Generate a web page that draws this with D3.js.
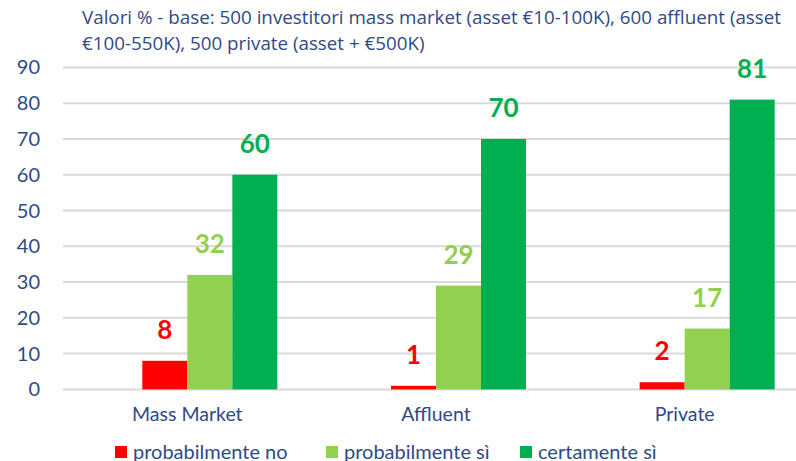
<!DOCTYPE html>
<html>
<head>
<meta charset="utf-8">
<script src="https://cdn.jsdelivr.net/npm/d3@7"></script>
<style>
  body { margin: 0; background: #fff; }
  svg { display: block; }
</style>
</head>
<body>
<div id="chart"></div>
<script>
// data
var categories = ["Mass Market", "Affluent", "Private"];
var seriesNames = ["probabilmente no", "probabilmente sì", "certamente sì"];
var seriesColors = ["#FF0000", "#92D050", "#00B050"];
var probNo = [8, 1, 2];
var probSi = [32, 29, 17];
var certSi = [60, 70, 81];
var yTicks = [0, 10, 20, 30, 40, 50, 60, 70, 80, 90];
var titleLines = [
  "Valori % - base: 500 investitori mass market (asset €10-100K), 600 affluent (asset",
  "€100-550K), 500 private (asset + €500K)"
];

var width = 796, height = 461;
var textColor = "#2F4A86";
var margin = {top: 67, left: 63, bottom: 72};
var plotRight = 809;

var svg = d3.select("#chart").append("svg")
    .attr("width", width).attr("height", height);

var values = [probNo, probSi, certSi];
// one row per category
var rows = categories.map(function(c, i) {
    return {cat: c, vals: values.map(function(v, s) { return {s: s, v: v[i]}; })};
});

var y = d3.scaleLinear().domain([0, 90]).range([height - margin.bottom + 0.4, margin.top + 0.4]);

var x0 = d3.scaleBand().domain(categories).range([margin.left, plotRight]);
// first slot stays empty, like the hidden series in the original
var x1 = d3.scaleBand().domain([-1, 0, 1, 2])
    .range([x0.bandwidth() * 0.138, x0.bandwidth() * 0.862]);

// title
svg.append("g").selectAll("text").data(titleLines).enter().append("text")
    .attr("x", 82)
    .attr("y", function(d, i) { return 24 + i * 26; })
    .attr("font-family", "'Open Sans', sans-serif")
    .attr("font-size", "18.8px")
    .attr("fill", textColor)
    .text(function(d) { return d; });

// grid lines
svg.append("g").selectAll("line").data(yTicks).enter().append("line")
    .attr("x1", margin.left).attr("x2", plotRight)
    .attr("y1", function(d) { return y(d); })
    .attr("y2", function(d) { return y(d); })
    .attr("stroke", "#D9D9D9").attr("stroke-width", 2);

// y labels
svg.append("g").selectAll("text").data(yTicks).enter().append("text")
    .attr("x", 40)
    .attr("y", function(d) { return y(d); })
    .attr("dy", "0.35em")
    .attr("text-anchor", "end")
    .attr("font-family", "Lato, sans-serif")
    .attr("font-size", "20px")
    .attr("fill", textColor)
    .text(function(d) { return d; });

// bars
var groups = svg.append("g").selectAll("g").data(rows).enter().append("g")
    .attr("transform", function(d) { return "translate(" + x0(d.cat) + ",0)"; });

groups.selectAll("rect").data(function(d) { return d.vals; }).enter().append("rect")
    .attr("x", function(d) { return x1(d.s); })
    .attr("width", x1.bandwidth())
    .attr("y", function(d) { return y(d.v); })
    .attr("height", function(d) { return y(0) - y(d.v); })
    .attr("fill", function(d) { return seriesColors[d.s]; });

groups.selectAll("text").data(function(d) { return d.vals; }).enter().append("text")
    .attr("x", function(d) { return x1(d.s) + x1.bandwidth() / 2; })
    .attr("y", function(d) { return y(d.v) - 22; })
    .attr("text-anchor", "middle")
    .attr("font-family", "Lato, sans-serif")
    .attr("font-weight", "bold")
    .attr("font-size", "26px")
    .attr("fill", function(d) { return seriesColors[d.s]; })
    .text(function(d) { return d.v; });

// category labels
svg.append("g").selectAll("text").data(categories).enter().append("text")
    .attr("x", function(d) { return x0(d) + x0.bandwidth() / 2; })
    .attr("y", 421)
    .attr("text-anchor", "middle")
    .attr("font-family", "Lato, sans-serif")
    .attr("font-size", "19.5px")
    .attr("fill", textColor)
    .text(function(d) { return d; });

// legend
var legendX = [115, 326, 520];
var leg = svg.append("g").selectAll("g").data(seriesNames).enter().append("g")
    .attr("transform", function(d, i) { return "translate(" + legendX[i] + ",446)"; });
leg.append("rect").attr("width", 12).attr("height", 12)
    .attr("fill", function(d, i) { return seriesColors[i]; });
leg.append("text")
    .attr("x", 18).attr("y", 12.5)
    .attr("font-family", "Lato, sans-serif")
    .attr("font-size", "20px")
    .attr("fill", textColor)
    .text(function(d) { return d; });
</script>
</body>
</html>
